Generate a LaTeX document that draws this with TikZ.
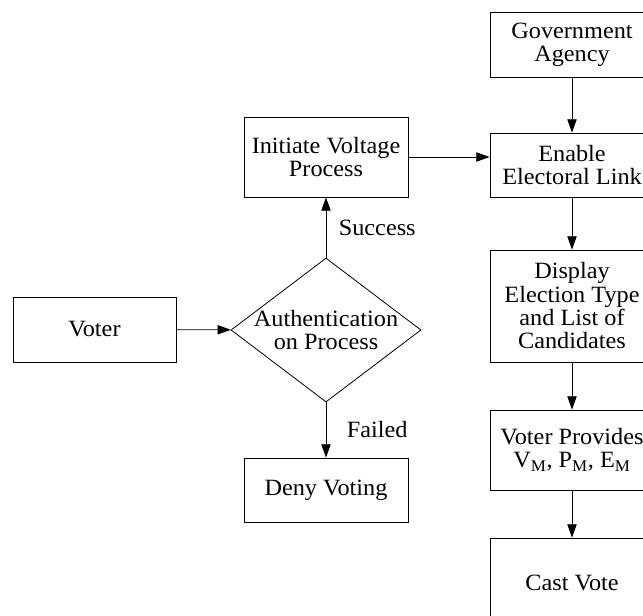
\documentclass[tikz,border=0pt]{standalone}
\usepackage{fontspec}
\setmainfont{Liberation Serif}[FakeStretch=1.04]
\usetikzlibrary{shapes.geometric,arrows.meta}
\begin{document}
\begin{tikzpicture}[x=0.75pt,y=-0.75pt,
  font=\fontsize{17.5}{17.5}\selectfont,
  box/.style={draw,line width=0.6pt,minimum width=164*0.75pt,inner sep=0pt,align=center},
  decision/.style={draw,diamond,line width=0.6pt,minimum width=190*0.75pt,minimum height=144*0.75pt,inner sep=0pt},
  flow/.style={line width=0.6pt,-{Triangle[length=10pt,width=7pt]}}]
  \clip (0,0) rectangle (643,615);
  \node[box,minimum width=163*0.75pt,minimum height=65*0.75pt] (voter) at (94.5,329.5) {Voter};
  \node[decision] (auth) at (326,330) {};
  \node[align=center,inner sep=0pt] (authtext) at (auth.center) {Authentication\\on Process};
  \node[box,minimum height=80*0.75pt] (init) at (326,157) {Initiate Voltage\\Process};
  \node[box,minimum height=64*0.75pt] (deny) at (326,490) {Deny Voting};
  \node[box,minimum height=65*0.75pt] (gov) at (572,44.5) {Government\\Agency};
  \node[box,minimum height=64*0.75pt] (enable) at (572,165) {Enable\\Electoral Link};
  \node[box,minimum height=112*0.75pt] (display) at (572,306) {Display\\Election Type\\and List of\\Candidates};
  \node[box,minimum height=80*0.75pt] (provides) at (572,450) {Voter Provides\\V\textsubscript{M}, P\textsubscript{M}, E\textsubscript{M}};
  \node[box,minimum height=90*0.75pt] (cast) at (572,583) {Cast Vote};
  % connectors
  \draw[flow] (voter) -- (auth);
  \draw[flow] (auth) -- node[right=6pt] {Success} (init);
  \draw[flow] (auth) -- node[right=12pt] {Failed} (deny);
  \draw[flow] (init.east) -- (enable.west |- init.east);
  \draw[flow] (gov) -- (enable);
  \draw[flow] (enable) -- (display);
  \draw[flow] (display) -- (provides);
  \draw[flow] (provides) -- (cast);
\end{tikzpicture}
\end{document}
